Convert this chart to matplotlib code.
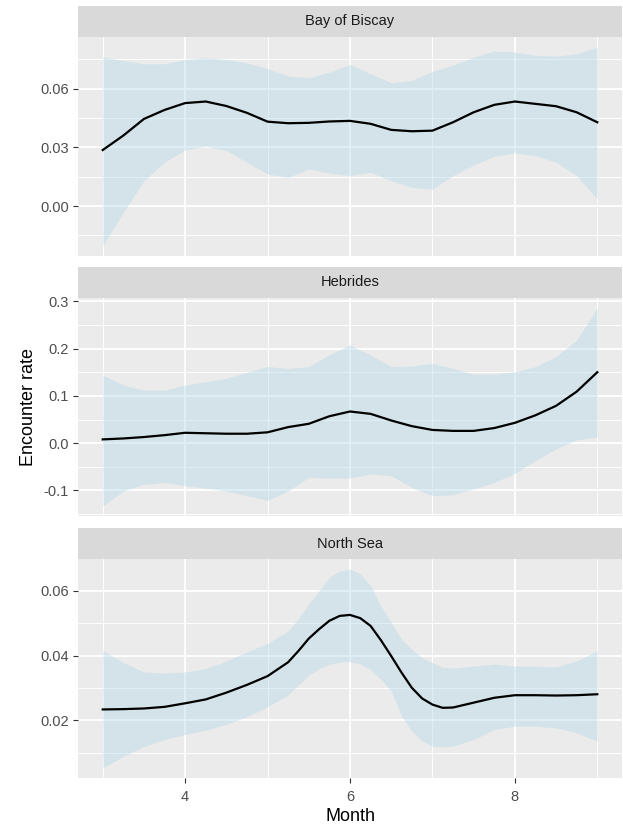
import matplotlib
matplotlib.use("Agg")
import matplotlib.pyplot as plt
from matplotlib.ticker import MultipleLocator

plt.rcParams["font.family"] = ["Liberation Sans", "DejaVu Sans"]

# smoothed encounter rate by month, with confidence band, per region
regions = ["Bay of Biscay", "Hebrides", "North Sea"]

month = [3.0, 3.25, 3.5, 3.75, 4.0, 4.25, 4.5, 4.75, 5.0, 5.25, 5.5, 5.75, 6.0,
         6.25, 6.5, 6.75, 7.0, 7.25, 7.5, 7.75, 8.0, 8.25, 8.5, 8.75, 9.0]

biscay_fit = [0.0287, 0.0361, 0.0446, 0.0492, 0.0527, 0.0535, 0.0512, 0.0477, 0.0432,
              0.0424, 0.0426, 0.0433, 0.0436, 0.0421, 0.0390, 0.0383, 0.0386, 0.0429,
              0.0480, 0.0518, 0.0535, 0.0523, 0.0511, 0.0480, 0.0429]
biscay_hi = [0.0763, 0.0745, 0.0728, 0.0728, 0.0749, 0.0759, 0.0750, 0.0732, 0.0703,
             0.0665, 0.0656, 0.0685, 0.0725, 0.0677, 0.0631, 0.0643, 0.0689, 0.0720,
             0.0763, 0.0793, 0.0788, 0.0771, 0.0767, 0.0779, 0.0814]
biscay_lo = [-0.0204, -0.0031, 0.0130, 0.0226, 0.0287, 0.0306, 0.0284, 0.0224, 0.0164,
             0.0147, 0.0190, 0.0169, 0.0156, 0.0173, 0.0130, 0.0096, 0.0087, 0.0156,
             0.0210, 0.0255, 0.0272, 0.0258, 0.0224, 0.0156, 0.0036]

hebrides_fit = [0.008, 0.010, 0.013, 0.017, 0.022, 0.021, 0.020, 0.020, 0.023, 0.034,
                0.041, 0.057, 0.067, 0.062, 0.048, 0.036, 0.028, 0.026, 0.026, 0.032,
                0.043, 0.059, 0.079, 0.109, 0.150]
hebrides_hi = [0.144, 0.123, 0.112, 0.112, 0.123, 0.130, 0.137, 0.150, 0.162, 0.158,
               0.162, 0.187, 0.208, 0.186, 0.162, 0.163, 0.169, 0.158, 0.146, 0.146,
               0.151, 0.162, 0.183, 0.218, 0.286]
hebrides_lo = [-0.133, -0.101, -0.087, -0.083, -0.090, -0.095, -0.101, -0.111, -0.121,
               -0.101, -0.072, -0.074, -0.074, -0.065, -0.069, -0.094, -0.111, -0.109,
               -0.097, -0.083, -0.064, -0.037, -0.012, 0.007, 0.013]

# North Sea is read more finely around the June peak
month_ns = [3.0, 3.25, 3.5, 3.75, 4.0, 4.25, 4.5, 4.75, 5.0, 5.25, 5.375, 5.5, 5.625,
            5.75, 5.875, 6.0, 6.125, 6.25, 6.375, 6.5, 6.625, 6.75, 6.875, 7.0, 7.125,
            7.25, 7.5, 7.75, 8.0, 8.25, 8.5, 8.75, 9.0]
northsea_fit = [0.0234, 0.0235, 0.0237, 0.0242, 0.0253, 0.0265, 0.0286, 0.0310, 0.0337,
                0.0380, 0.0415, 0.0453, 0.0482, 0.0508, 0.0523, 0.0526, 0.0516, 0.0492,
                0.0448, 0.0399, 0.0348, 0.0301, 0.0268, 0.0249, 0.0239, 0.0240, 0.0255,
                0.0270, 0.0278, 0.0278, 0.0277, 0.0278, 0.0281]
northsea_hi = [0.0417, 0.0379, 0.0350, 0.0346, 0.0350, 0.0360, 0.0384, 0.0412, 0.0438,
               0.0477, 0.0515, 0.0560, 0.0601, 0.0642, 0.0661, 0.0668, 0.0653, 0.0616,
               0.0554, 0.0503, 0.0451, 0.0420, 0.0394, 0.0379, 0.0364, 0.0362, 0.0368,
               0.0374, 0.0368, 0.0368, 0.0365, 0.0384, 0.0415]
northsea_lo = [0.0053, 0.0089, 0.0120, 0.0141, 0.0157, 0.0170, 0.0188, 0.0212, 0.0242,
               0.0279, 0.0310, 0.0340, 0.0360, 0.0374, 0.0380, 0.0382, 0.0374, 0.0356,
               0.0327, 0.0291, 0.0213, 0.0167, 0.0136, 0.0120, 0.0119, 0.0121, 0.0141,
               0.0172, 0.0182, 0.0182, 0.0177, 0.0162, 0.0136]

months = [month, month, month_ns]
fits = [biscay_fit, hebrides_fit, northsea_fit]
his = [biscay_hi, hebrides_hi, northsea_hi]
los = [biscay_lo, hebrides_lo, northsea_lo]

y_major = [0.03, 0.1, 0.02]
y_fmt = ["{:.2f}", "{:.1f}", "{:.2f}"]
x_ticks = [4, 6, 8]

W, H = 623, 830
fig = plt.figure(figsize=(W / 100, H / 100), dpi=100)

left, right = 78, 622
panel_px = [(37, 256), (298, 516), (559, 778)]
strip_h = 31

for i, region in enumerate(regions):
    top, bot = panel_px[i]
    ax = fig.add_axes([left / W, 1 - bot / H, (right - left) / W, (bot - top) / H])
    ax.set_facecolor("#EBEBEB")
    for s in ax.spines.values():
        s.set_visible(False)

    ax.fill_between(months[i], los[i], his[i], color="#ADD8E6", alpha=0.38, lw=0, zorder=2)
    ax.plot(months[i], fits[i], color="black", lw=1.6, zorder=3)

    lo_all, hi_all = min(los[i]), max(his[i])
    pad = 0.05 * (hi_all - lo_all)
    ax.set_ylim(lo_all - pad, hi_all + pad)
    ax.set_xlim(2.7, 9.3)

    ax.xaxis.set_major_locator(plt.FixedLocator(x_ticks))
    ax.xaxis.set_minor_locator(MultipleLocator(1))
    ax.yaxis.set_major_locator(MultipleLocator(y_major[i]))
    ax.yaxis.set_minor_locator(MultipleLocator(y_major[i] / 2))
    ax.yaxis.set_major_formatter(plt.FuncFormatter(lambda v, p, f=y_fmt[i]: f.format(v + 0.0)))

    ax.grid(which="major", color="white", lw=1.3, zorder=1)
    ax.grid(which="minor", color="white", lw=0.65, zorder=1)
    ax.set_axisbelow(True)

    ax.tick_params(which="major", length=3.5, width=0.8, color="#333333",
                   labelsize=10.5, labelcolor="#4D4D4D")
    ax.tick_params(axis="y", pad=3)
    ax.tick_params(axis="x", pad=5)
    ax.tick_params(which="minor", length=0)
    if i < 2:
        ax.tick_params(axis="x", which="both", length=0, labelbottom=False)

    sax = fig.add_axes([left / W, 1 - top / H, (right - left) / W, strip_h / H])
    sax.set_facecolor("#D9D9D9")
    sax.set_xticks([])
    sax.set_yticks([])
    for s in sax.spines.values():
        s.set_visible(False)
    sax.text(0.5, 0.5, region, ha="center", va="center", fontsize=10.5,
             color="#1A1A1A", transform=sax.transAxes)

    if i == 2:
        ax.set_xlabel("Month", fontsize=13, labelpad=3)
    if i == 1:
        ax.set_ylabel("Encounter rate", fontsize=13, labelpad=5)

fig.savefig("out.png", dpi=100)
